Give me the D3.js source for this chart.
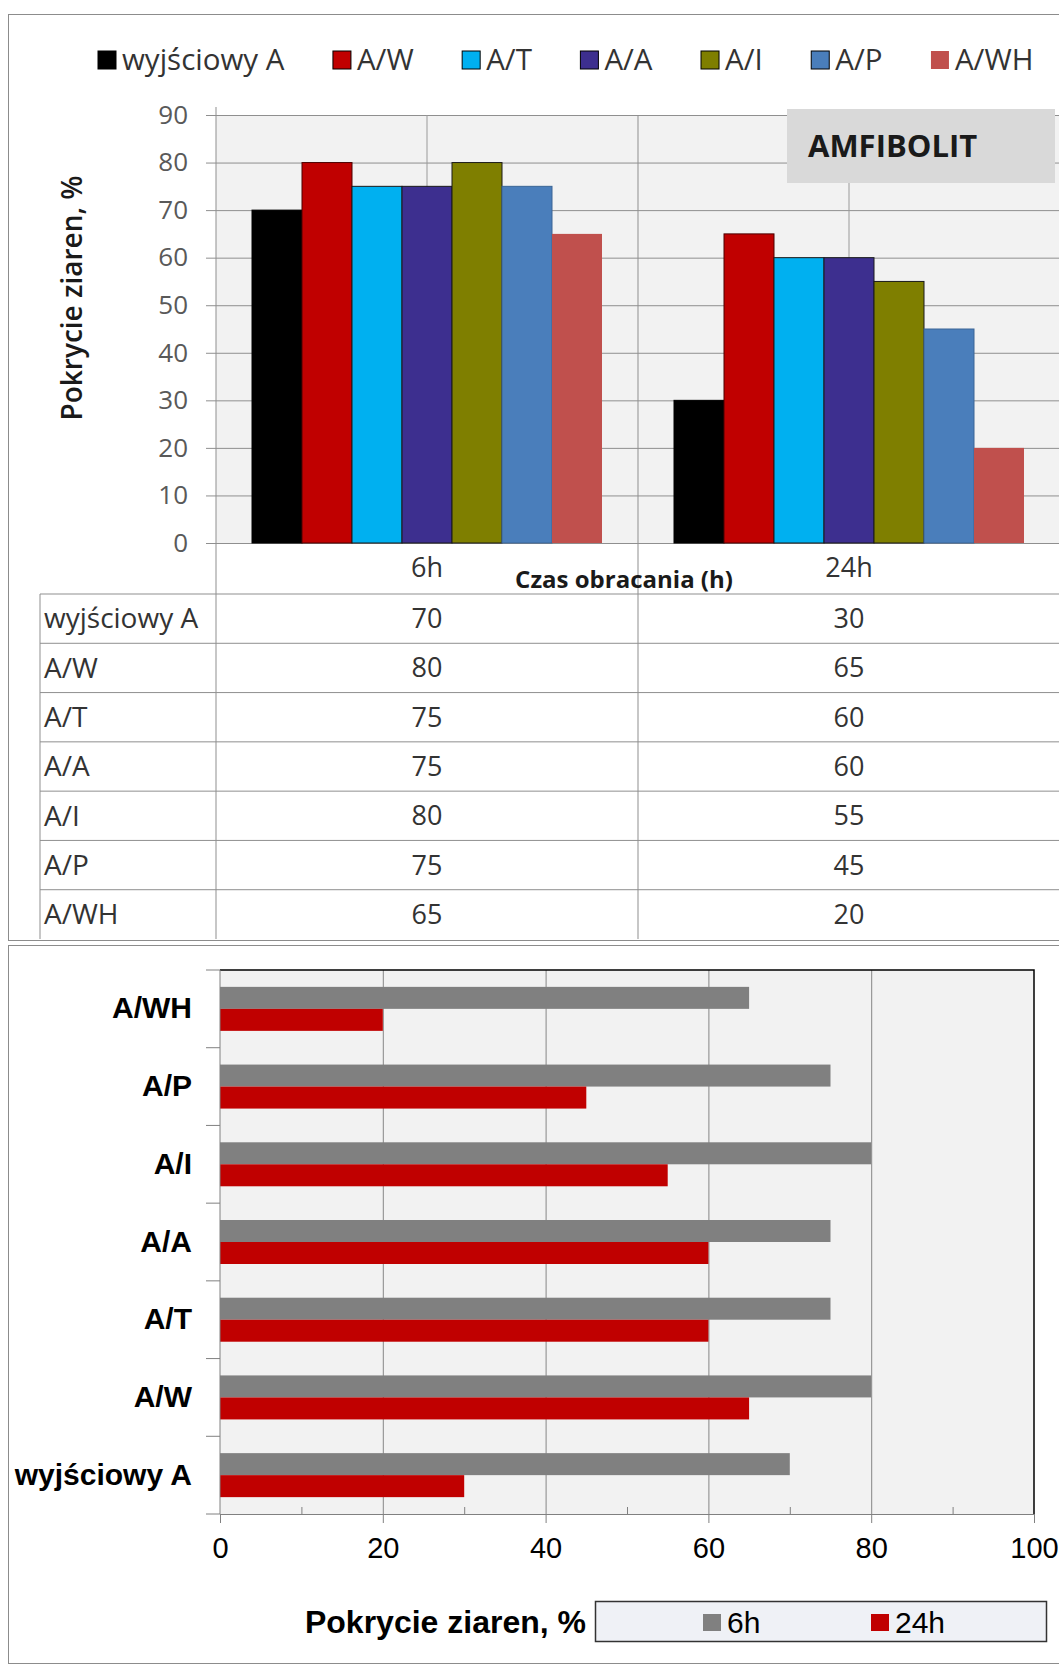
<!DOCTYPE html>
<html>
<head>
<meta charset="utf-8">
<script src="https://cdn.jsdelivr.net/npm/d3@7"></script>
<style>
  :root { --width: 1059; --height: 1665; }
  body { margin: 0; background: #fff; }
  svg { display: block; }
  .top text { font-family: 'Open Sans', sans-serif; fill: #333; }
  .bottom text { font-family: 'Liberation Sans', Arial, sans-serif; fill: #000; }
</style>
</head>
<body>
<svg width="1059" height="1665"></svg>
<script>
const svg = d3.select('svg');

// data
const series = ['wyjściowy A', 'A/W', 'A/T', 'A/A', 'A/I', 'A/P', 'A/WH'];
const times = ['6h', '24h'];
const values6h = [70, 80, 75, 75, 80, 75, 65];
const values24h = [30, 65, 60, 60, 55, 45, 20];
const topTicks = [0, 10, 20, 30, 40, 50, 60, 70, 80, 90];
const bottomTicks = [0, 20, 40, 60, 80, 100];
const bottomMinorTicks = [10, 30, 50, 70, 90];

const seriesColors = ['#000000', '#c00000', '#00b0f0', '#3d2f8f', '#7f7f00', '#4a7ebb', '#c0504d'];
const seriesStroke = ['#000', '#4d0000', '#1a1a1a', '#1a1a1a', '#1a1a1a', '#3a6595', 'none'];
const timeColors = ['#808080', '#c00000'];

const valuesByTime = { '6h': values6h, '24h': values24h };

/**
 * outer frames
 */
svg.append('rect')
    .attr('x', 8.5).attr('y', 14.5)
    .attr('width', 1070).attr('height', 926)
    .attr('fill', 'none').attr('stroke', '#8c8c8c');
svg.append('rect')
    .attr('x', 8.5).attr('y', 945.5)
    .attr('width', 1070).attr('height', 718)
    .attr('fill', 'none').attr('stroke', '#8c8c8c');

/**
 * Top chart: clustered columns + data table
 */
const topG = svg.append('g').attr('class', 'top');

const plotLeft = 216;
const plotRight = 1060;
const xTime = d3.scaleBand()
  .domain(times)
  .range([plotLeft, plotRight]);
const xSeries = d3.scaleBand()
  .domain(series)
  .range([36, xTime.bandwidth() - 36]);
const yTop = d3.scaleLinear()
  .domain([0, 90])
  .range([543, 115]);

topG.append('rect')
    .attr('x', plotLeft).attr('y', yTop(90))
    .attr('width', plotRight - plotLeft).attr('height', yTop(0) - yTop(90))
    .attr('fill', '#f2f2f2');

// horizontal gridlines
const yGrid = d3.axisLeft(yTop)
  .tickValues(topTicks)
  .tickSize(-(plotRight - plotLeft))
  .tickFormat('');
topG.append('g')
    .attr('transform', `translate(${plotLeft},0)`)
    .call(yGrid)
    .call(g => g.select('.domain').remove())
    .call(g => g.selectAll('line').attr('stroke', '#8f8f8f'));

// vertical gridlines at category centres
topG.selectAll('.vgrid').data(times)
  .enter().append('line')
    .attr('class', 'vgrid')
    .attr('x1', d => xTime(d) + xTime.bandwidth() / 2)
    .attr('x2', d => xTime(d) + xTime.bandwidth() / 2)
    .attr('y1', yTop(90)).attr('y2', yTop(0))
    .attr('stroke', '#9a9a9a');

// bars
const barData = [];
times.forEach(t => series.forEach((s, i) => barData.push({ t, s, i, v: valuesByTime[t][i] })));
topG.selectAll('.bar').data(barData)
  .enter().append('rect')
    .attr('class', 'bar')
    .attr('x', d => xTime(d.t) + xSeries(d.s))
    .attr('y', d => yTop(d.v))
    .attr('width', xSeries.bandwidth())
    .attr('height', d => yTop(0) - yTop(d.v))
    .attr('fill', d => seriesColors[d.i])
    .attr('stroke', d => seriesStroke[d.i])
    .attr('stroke-width', 1);

// y axis
const yAxis = d3.axisLeft(yTop)
  .tickValues(topTicks)
  .tickSize(10)
  .tickPadding(18);
topG.append('g')
    .attr('transform', `translate(${plotLeft},0)`)
    .call(yAxis)
    .call(g => g.select('.domain').remove())
    .call(g => g.selectAll('line').attr('stroke', '#8f8f8f'))
    .call(g => g.selectAll('text')
      .attr('font-size', 26)
      .attr('font-family', "'Open Sans', sans-serif")
      .style('fill', '#595959'));

// table geometry
const tableLeft = 40;
const rowScale = d3.scaleBand()
  .domain(series)
  .range([594, 939]);

// axis line runs down through the table, so does the category divider
topG.append('line')
    .attr('x1', plotLeft).attr('x2', plotLeft)
    .attr('y1', 107).attr('y2', 939)
    .attr('stroke', '#8f8f8f');
topG.append('line')
    .attr('x1', xTime('24h')).attr('x2', xTime('24h'))
    .attr('y1', yTop(90)).attr('y2', 939)
    .attr('stroke', '#8f8f8f');

// category labels
topG.selectAll('.cat').data(times)
  .enter().append('text')
    .attr('class', 'cat')
    .attr('x', d => xTime(d) + xTime.bandwidth() / 2)
    .attr('y', 568)
    .attr('dy', '0.35em')
    .attr('text-anchor', 'middle')
    .attr('font-size', 27)
    .text(d => d);

topG.append('text')
    .attr('x', 624).attr('y', 580)
    .attr('dy', '0.35em')
    .attr('text-anchor', 'middle')
    .attr('font-size', 24)
    .attr('font-weight', 700)
    .style('fill', '#1a1a1a')
    .text('Czas obracania (h)');

// table rows
topG.selectAll('.rowline').data(series)
  .enter().append('line')
    .attr('class', 'rowline')
    .attr('x1', tableLeft).attr('x2', plotRight)
    .attr('y1', d => rowScale(d)).attr('y2', d => rowScale(d))
    .attr('stroke', '#8f8f8f');
topG.append('line')
    .attr('x1', tableLeft).attr('x2', tableLeft)
    .attr('y1', 594).attr('y2', 939)
    .attr('stroke', '#8f8f8f');

topG.selectAll('.rowlabel').data(series)
  .enter().append('text')
    .attr('class', 'rowlabel')
    .attr('x', tableLeft + 4)
    .attr('y', d => rowScale(d) + rowScale.bandwidth() / 2)
    .attr('dy', '0.35em')
    .attr('font-size', 28)
    .text(d => d);

topG.selectAll('.cell').data(barData)
  .enter().append('text')
    .attr('class', 'cell')
    .attr('x', d => xTime(d.t) + xTime.bandwidth() / 2)
    .attr('y', d => rowScale(d.s) + rowScale.bandwidth() / 2)
    .attr('dy', '0.35em')
    .attr('text-anchor', 'middle')
    .attr('font-size', 27)
    .text(d => d.v);

// y title
topG.append('text')
    .attr('transform', `translate(72,${298}) rotate(-90)`)
    .attr('dy', '0.35em')
    .attr('text-anchor', 'middle')
    .attr('font-size', 28)
    .attr('font-weight', 600)
    .style('fill', '#1a1a1a')
    .text('Pokrycie ziaren, %');

// AMFIBOLIT label box
topG.append('rect')
    .attr('x', 787).attr('y', 109)
    .attr('width', 268).attr('height', 74)
    .attr('fill', '#d9d9d9');
topG.append('text')
    .attr('x', 808).attr('y', 146)
    .attr('dy', '0.35em')
    .attr('font-size', 31)
    .attr('font-weight', 700)
    .style('fill', '#1a1a1a')
    .text('AMFIBOLIT');

// legend
const legend = topG.append('g').attr('transform', 'translate(98,60)');
let legendX = 0;
series.forEach((s, i) => {
  const item = legend.append('g').attr('transform', `translate(${legendX},0)`);
  item.append('rect')
      .attr('x', 0).attr('y', -9)
      .attr('width', 18).attr('height', 18)
      .attr('fill', seriesColors[i])
      .attr('stroke', seriesStroke[i] === 'none' ? 'none' : '#000');
  const label = item.append('text')
      .attr('x', 24).attr('dy', '0.35em')
      .attr('font-size', 29.5)
      .text(s);
  legendX += 24 + label.node().getComputedTextLength() + 48.5;
});

/**
 * Bottom chart: horizontal bars
 */
const bottomG = svg.append('g').attr('class', 'bottom');

const bLeft = 220;
const bRight = 1034;
const bTop = 970;
const bBottom = 1514;

const xVal = d3.scaleLinear()
  .domain([0, 100])
  .range([bLeft, bRight]);
const yCat = d3.scaleBand()
  .domain(series.slice().reverse())
  .range([bTop, bBottom]);
const yInner = d3.scaleBand()
  .domain(times)
  .range([yCat.bandwidth() / 2 - 22, yCat.bandwidth() / 2 + 22]);

bottomG.append('rect')
    .attr('x', bLeft).attr('y', bTop)
    .attr('width', bRight - bLeft).attr('height', bBottom - bTop)
    .attr('fill', '#f2f2f2');

const xGrid = d3.axisBottom(xVal)
  .tickValues(bottomTicks.slice(1, -1))
  .tickSize(-(bBottom - bTop))
  .tickFormat('');
bottomG.append('g')
    .attr('transform', `translate(0,${bBottom})`)
    .call(xGrid)
    .call(g => g.select('.domain').remove())
    .call(g => g.selectAll('line').attr('stroke', '#868686'));

const hBarData = [];
series.forEach((s, i) => times.forEach((t, j) => hBarData.push({ s, t, j, v: valuesByTime[t][i] })));
bottomG.selectAll('.hbar').data(hBarData)
  .enter().append('rect')
    .attr('class', 'hbar')
    .attr('x', xVal(0))
    .attr('y', d => yCat(d.s) + yInner(d.t))
    .attr('width', d => xVal(d.v) - xVal(0))
    .attr('height', yInner.bandwidth())
    .attr('fill', d => timeColors[d.j]);

// plot border (top + right black)
bottomG.append('path')
    .attr('d', `M${bLeft},${bTop}H${bRight}V${bBottom}`)
    .attr('fill', 'none')
    .attr('stroke', '#000')
    .attr('stroke-width', 1.5);

// x axis
const xAxis = d3.axisBottom(xVal)
  .tickValues(bottomTicks)
  .tickSize(9)
  .tickPadding(14)
  .tickSizeOuter(0);
bottomG.append('g')
    .attr('transform', `translate(0,${bBottom})`)
    .call(xAxis)
    .call(g => g.select('.domain').attr('stroke', '#808080'))
    .call(g => g.selectAll('line').attr('stroke', '#808080'))
    .call(g => g.selectAll('text')
      .attr('font-size', 29)
      .attr('font-family', "'Liberation Sans', Arial, sans-serif")
      .style('fill', '#000'));

const xMinor = d3.axisBottom(xVal)
  .tickValues(bottomMinorTicks)
  .tickSize(-7)
  .tickFormat('');
bottomG.append('g')
    .attr('transform', `translate(0,${bBottom})`)
    .call(xMinor)
    .call(g => g.select('.domain').remove())
    .call(g => g.selectAll('line').attr('stroke', '#808080'));

// y axis: line, ticks at category boundaries, labels at centres
bottomG.append('line')
    .attr('x1', bLeft).attr('x2', bLeft)
    .attr('y1', bTop).attr('y2', bBottom)
    .attr('stroke', '#808080');
bottomG.selectAll('.ytick').data(yCat.domain().concat([null]))
  .enter().append('line')
    .attr('class', 'ytick')
    .attr('x1', bLeft - 14).attr('x2', bLeft)
    .attr('y1', d => d === null ? bBottom : yCat(d))
    .attr('y2', d => d === null ? bBottom : yCat(d))
    .attr('stroke', '#808080');

const yAxis2 = d3.axisLeft(yCat)
  .tickSize(0)
  .tickPadding(28);
bottomG.append('g')
    .attr('transform', `translate(${bLeft},0)`)
    .call(yAxis2)
    .call(g => g.select('.domain').remove())
    .call(g => g.selectAll('text')
      .attr('font-size', 30)
      .attr('font-weight', 700)
      .attr('font-family', "'Liberation Sans', Arial, sans-serif")
      .style('fill', '#000'));

// x title and legend
bottomG.append('text')
    .attr('x', 586).attr('y', 1622)
    .attr('dy', '0.35em')
    .attr('text-anchor', 'end')
    .attr('font-size', 32)
    .attr('font-weight', 700)
    .text('Pokrycie ziaren, %');

bottomG.append('rect')
    .attr('x', 595.5).attr('y', 1601.5)
    .attr('width', 451).attr('height', 40)
    .attr('fill', '#eff1f6')
    .attr('stroke', '#333')
    .attr('stroke-width', 1.5);

const bLegendX = [703, 871];
times.forEach((t, j) => {
  bottomG.append('rect')
      .attr('x', bLegendX[j]).attr('y', 1614)
      .attr('width', 18).attr('height', 17)
      .attr('fill', timeColors[j]);
  bottomG.append('text')
      .attr('x', bLegendX[j] + 24).attr('y', 1622)
      .attr('dy', '0.35em')
      .attr('font-size', 30)
      .text(t);
});
</script>
</body>
</html>
